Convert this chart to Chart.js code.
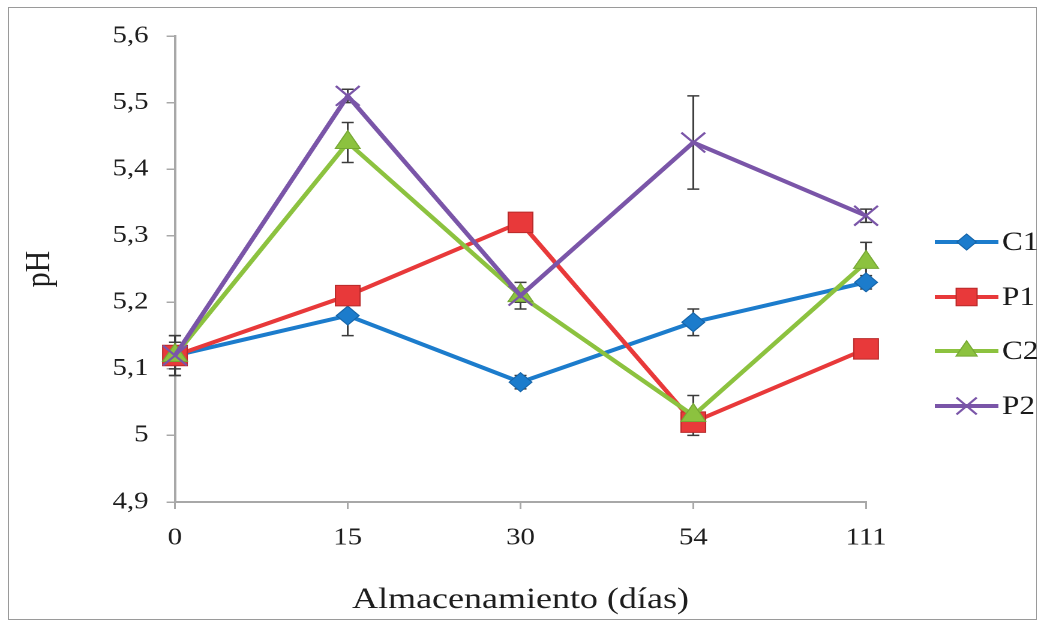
<!DOCTYPE html>
<html>
<head>
<meta charset="utf-8">
<script src="https://cdn.jsdelivr.net/npm/chart.js@4.4.1/dist/chart.umd.min.js"></script>
<style>
  html, body { margin: 0; padding: 0; background: #ffffff; }
  #frame { position: absolute; left: 8px; top: 7px; width: 1029px; height: 613px; border: 1px solid #9a9a9a; box-sizing: border-box; }
  #wrap { position: absolute; left: 0; top: 0; width: 871px; height: 628px; transform: scaleX(1.2); transform-origin: 0 0; }
</style>
</head>
<body>
<div id="frame"></div>
<div id="wrap"><canvas id="c" width="871" height="628"></canvas></div>
<script>
// ---- data ----
const categories = ['0', '15', '30', '54', '111'];
const seriesNames = ['C1', 'P1', 'C2', 'P2'];
const c1 = [5.12, 5.18, 5.08, 5.17, 5.23];
const p1 = [5.12, 5.21, 5.32, 5.02, 5.13];
const c2 = [5.12, 5.44, 5.21, 5.03, 5.26];
const p2 = [5.12, 5.51, 5.21, 5.44, 5.33];
const c1Err = [0.03, 0.03, 0.01, 0.02, 0.01];
const p1Err = [0.01, 0.01, 0.01, 0.01, 0.01];
const c2Err = [0.03, 0.03, 0.02, 0.03, 0.03];
const p2Err = [0.02, 0.01, 0.01, 0.07, 0.01];
const yMin = 4.9, yMax = 5.6, yStep = 0.1;

// ---- styles ----
const FONT = "'Liberation Serif', 'Times New Roman', serif";
const colors = ['#1c7ccc', '#e8393a', '#8cc23f', '#7a55a8'];
const borders = ['#1664a8', '#b82a2a', '#76a834', '#7a55a8'];
const styles = ['rectRot', 'rect', 'triangle', 'crossRot'];
const radii = [9.5, 14.5, 12, 14];
const values = [c1, p1, c2, p2];
const errs = [c1Err, p1Err, c2Err, p2Err];
const orders = [4, 3, 2, 1];

const datasets = seriesNames.map((n, i) => ({
  label: n,
  data: values[i],
  errors: errs[i],
  borderColor: colors[i],
  backgroundColor: colors[i],
  borderWidth: 4,
  pointStyle: styles[i],
  pointRadius: radii[i],
  pointHoverRadius: radii[i],
  pointBackgroundColor: colors[i],
  pointBorderColor: borders[i],
  pointBorderWidth: i === 3 ? 2 : 1,
  tension: 0,
  order: orders[i]
}));

const errorBars = {
  id: 'errorBars',
  beforeDatasetsDraw(chart) {
    const ctx = chart.ctx, xs = chart.scales.x, ys = chart.scales.y;
    ctx.save();
    ctx.strokeStyle = '#3c3c3c';
    ctx.lineWidth = 1.5;
    chart.data.datasets.forEach(ds => {
      ds.errors.forEach((e, j) => {
        const px = xs.getPixelForValue(j);
        const t = ys.getPixelForValue(ds.data[j] + e);
        const b = ys.getPixelForValue(ds.data[j] - e);
        ctx.beginPath();
        ctx.moveTo(px, t); ctx.lineTo(px, b);
        ctx.moveTo(px - 5, t); ctx.lineTo(px + 5, t);
        ctx.moveTo(px - 5, b); ctx.lineTo(px + 5, b);
        ctx.stroke();
      });
    });
    ctx.restore();
  }
};

function drawMarker(ctx, style, x, y, r, fill, stroke, lw) {
  ctx.save();
  ctx.fillStyle = fill; ctx.strokeStyle = stroke; ctx.lineWidth = lw;
  ctx.beginPath();
  if (style === 'rectRot') {
    ctx.moveTo(x, y - r); ctx.lineTo(x + r, y); ctx.lineTo(x, y + r); ctx.lineTo(x - r, y); ctx.closePath();
    ctx.fill(); ctx.stroke();
  } else if (style === 'rect') {
    const s = Math.SQRT1_2 * r;
    ctx.rect(x - s, y - s, 2 * s, 2 * s); ctx.fill(); ctx.stroke();
  } else if (style === 'triangle') {
    const a = 2 * Math.PI / 3;
    ctx.moveTo(x, y - r);
    ctx.lineTo(x + Math.sin(a) * r, y - Math.cos(a) * r);
    ctx.lineTo(x + Math.sin(2 * a) * r, y - Math.cos(2 * a) * r);
    ctx.closePath(); ctx.fill(); ctx.stroke();
  } else {
    const d = Math.SQRT1_2 * r;
    ctx.moveTo(x - d, y - d); ctx.lineTo(x + d, y + d);
    ctx.moveTo(x + d, y - d); ctx.lineTo(x - d, y + d);
    ctx.stroke();
  }
  ctx.restore();
}

const customLegend = {
  id: 'customLegend',
  afterDraw(chart) {
    const ctx = chart.ctx;
    const ys = [242, 297, 351, 406];
    chart.data.datasets.forEach((ds, i) => {
      const y = ys[i];
      ctx.save();
      ctx.strokeStyle = ds.borderColor; ctx.lineWidth = 4;
      ctx.beginPath(); ctx.moveTo(779, y); ctx.lineTo(832, y); ctx.stroke();
      ctx.restore();
      drawMarker(ctx, ds.pointStyle, 805.5, y, ds.pointRadius * 0.85, ds.pointBackgroundColor, ds.pointBorderColor, ds.pointBorderWidth);
      ctx.save();
      ctx.fillStyle = '#1a1a1a';
      ctx.font = "26px " + FONT;
      ctx.textBaseline = 'middle';
      ctx.textAlign = 'left';
      ctx.fillText(ds.label, 835, y + 1);
      ctx.restore();
    });
  }
};

new Chart(document.getElementById('c'), {
  type: 'line',
  data: { labels: categories, datasets },
  plugins: [errorBars, customLegend],
  options: {
    responsive: false,
    animation: false,
    devicePixelRatio: 2,
    layout: { padding: { left: 0, right: 149.3, top: 36, bottom: 0 } },
    plugins: { legend: { display: false }, tooltip: { enabled: false } },
    scales: {
      x: {
        offset: false,
        grid: { display: true, drawOnChartArea: false, drawTicks: true, tickLength: 7, color: '#a8a8a8', lineWidth: 1.5 },
        border: { display: true, color: '#a8a8a8', width: 2 },
        ticks: { color: '#1e1e1e', font: { family: FONT, size: 24 }, padding: 15, maxRotation: 0 },
        title: { display: true, text: 'Almacenamiento (días)', color: '#1e1e1e', font: { family: FONT, size: 30 }, padding: { top: 0, bottom: 10 } },
        afterFit(scale) { scale.height = 628 - 502; }
      },
      y: {
        min: yMin, max: yMax,
        grid: { display: true, drawOnChartArea: false, drawTicks: true, tickLength: 7, color: '#a8a8a8', lineWidth: 1.5 },
        border: { display: true, color: '#a8a8a8', width: 2 },
        ticks: {
          stepSize: yStep, color: '#1e1e1e', font: { family: FONT, size: 24 }, padding: 15,
          callback: v => String(Math.round(v * 10) / 10).replace('.', ',')
        },
        title: { display: true, text: 'pH', color: '#1e1e1e', font: { family: FONT, size: 30 }, padding: { top: 15, bottom: 0 } },
        afterFit(scale) { scale.width = 145.8; }
      }
    }
  }
});
</script>
</body>
</html>
